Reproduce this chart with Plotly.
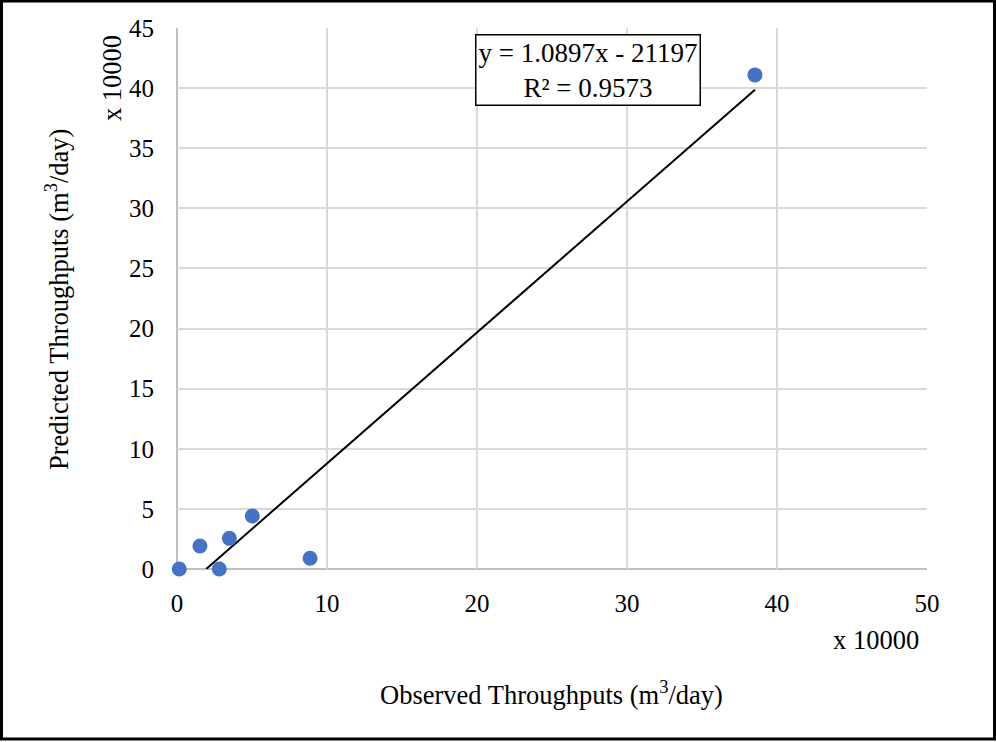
import plotly.graph_objects as go

# Data in m3/day
observed = [1500, 15300, 28200, 34900, 50200, 88700, 385300]
predicted = [0, 19100, 0, 25500, 44100, 8900, 411000]

slope = 1.0897
intercept = -21197
r2 = 0.9573
scale = 10000

x_ticks = [0, 10, 20, 30, 40, 50]
y_ticks = [0, 5, 10, 15, 20, 25, 30, 35, 40, 45]

xs = [v / scale for v in observed]
ys = [v / scale for v in predicted]

x_start = -intercept / slope
x_end = max(observed)
tx = [x_start / scale, x_end / scale]
ty = [(slope * x_start + intercept) / scale, (slope * x_end + intercept) / scale]

FONT = "Liberation Serif"

fig = go.Figure()
fig.add_trace(go.Scatter(x=tx, y=ty, mode="lines",
                         line=dict(color="black", width=2), showlegend=False,
                         cliponaxis=False))
fig.add_trace(go.Scatter(x=xs, y=ys, mode="markers",
                         marker=dict(color="#4472C4", size=15), showlegend=False,
                         cliponaxis=False))

W, H = 996, 742
L, R, T, B = 177, 69, 28, 173
pw, ph = W - L - R, H - T - B

def px(xp):
    return (xp - L) / pw

def py(yp):
    return (H - B - yp) / ph

def ann(text, x, y, size=26, angle=0, **kw):
    d = dict(text=text, xref="paper", yref="paper", x=px(x), y=py(y),
             xanchor="center", yanchor="middle", showarrow=False,
             textangle=angle, font=dict(size=size, family=FONT, color="black"))
    d.update(kw)
    return d

fig.update_layout(
    width=W, height=H,
    margin=dict(l=L, r=R, t=T, b=B),
    paper_bgcolor="white", plot_bgcolor="white",
    font=dict(family=FONT, size=25, color="black"),
    xaxis=dict(range=[0, 50], tickvals=x_ticks, showgrid=True, gridcolor="#d9d9d9",
               gridwidth=2, zeroline=False, showline=False, ticks="",
               ticklabelstandoff=17, tickfont=dict(size=25, family=FONT, color="black")),
    yaxis=dict(range=[0, 45], tickvals=y_ticks, showgrid=True, gridcolor="#d9d9d9",
               gridwidth=2, zeroline=False, showline=False, ticks="",
               ticklabelstandoff=22, tickfont=dict(size=25, family=FONT, color="black")),
    shapes=[
        dict(type="rect", xref="paper", yref="paper",
             x0=px(1.5), x1=px(994.5), y0=py(739), y1=py(1),
             line=dict(color="black", width=3), layer="above"),
        dict(type="line", xref="paper", yref="paper", x0=0, x1=0, y0=0, y1=1,
             line=dict(color="#bfbfbf", width=2), layer="below"),
        dict(type="line", xref="paper", yref="paper", x0=0, x1=1, y0=0, y1=0,
             line=dict(color="#bfbfbf", width=2), layer="below"),
    ],
    annotations=[
        ann(f"y = {slope:.4f}x - {abs(intercept)}<br>R² = {r2}", 588, 70, size=27,
            bgcolor="white", bordercolor="black", borderwidth=1.5, borderpad=2,
            align="center"),
        ann("Observed Throughputs (m<sup>3</sup>/day)", 551, 693, size=26.5),
        ann("Predicted Throughputs (m<sup>3</sup>/day)", 57, 300, size=26.5, angle=-90),
        ann("x 10000", 876, 640, size=26.5),
        ann("x 10000", 112, 78, size=26.5, angle=-90),
    ],
)

fig.write_html("out.html", config={"displayModeBar": False},
               post_script="document.body.style.margin='0';document.body.style.padding='0';")
